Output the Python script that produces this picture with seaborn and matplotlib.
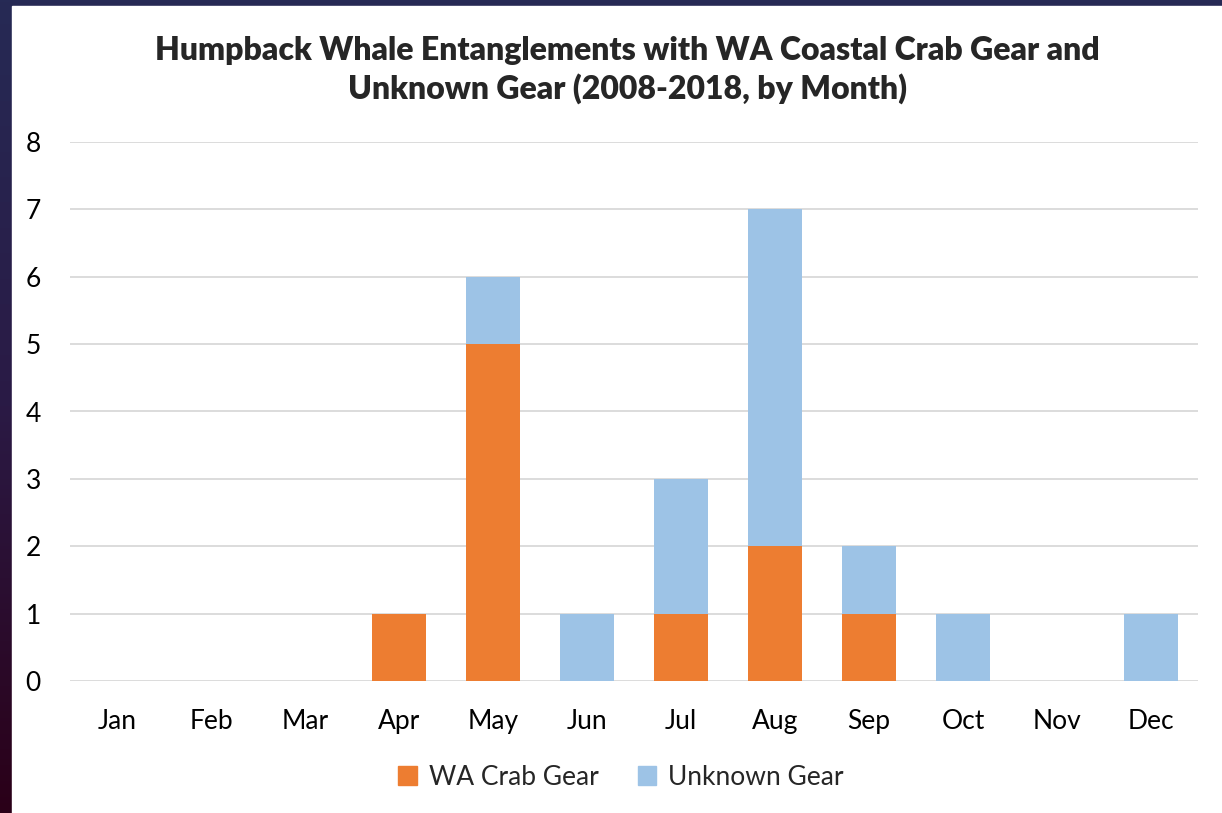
import numpy as np
import pandas as pd
import seaborn as sns
import matplotlib.pyplot as plt
from matplotlib.patches import Patch, Rectangle
from matplotlib.colors import LinearSegmentedColormap

months = ["Jan", "Feb", "Mar", "Apr", "May", "Jun", "Jul", "Aug", "Sep", "Oct", "Nov", "Dec"]
crab_gear = [0, 0, 0, 1, 5, 0, 1, 2, 1, 0, 0, 0]
unknown_gear = [0, 0, 0, 0, 1, 1, 2, 5, 1, 1, 0, 1]

orange = "#ED7D31"
blue = "#9DC3E6"

sns.set_theme(style="white")
plt.rcParams["font.family"] = ["Lato", "DejaVu Sans"]

fig = plt.figure(figsize=(12.22, 8.13), dpi=100)

# slide background (dark band at top/left) and the white chart panel
bg = fig.add_axes([0, 0, 1, 1], zorder=-10)
cmap = LinearSegmentedColormap.from_list("slide", ["#262a55", "#2a1a45", "#2a0018"])
bg.imshow(np.linspace(0, 1, 256).reshape(-1, 1), aspect="auto", cmap=cmap, extent=[0, 1, 0, 1])
bg.add_patch(Rectangle((12 / 1222, 0), 1, 1 - 6 / 813, color="white", transform=bg.transAxes))
bg.set_xlim(0, 1)
bg.set_ylim(0, 1)
bg.axis("off")

ax = fig.add_axes([70 / 1222, 1 - 681 / 813, 1128 / 1222, 539 / 813])
ax.set_facecolor("none")

df = pd.DataFrame({"Month": months, "WA Crab Gear": crab_gear, "Unknown Gear": unknown_gear})

sns.barplot(data=df, x="Month", y="WA Crab Gear", color=orange, width=0.57,
            saturation=1, linewidth=0, ax=ax, zorder=3)
sns.barplot(data=df, x="Month", y="Unknown Gear", color=blue, width=0.57,
            saturation=1, linewidth=0, bottom=df["WA Crab Gear"], ax=ax, zorder=3)

ax.set_ylim(0, 8)
ax.set_xlim(-0.5, 11.5)
ax.set_yticks(range(0, 9))
ax.yaxis.grid(True, color="#D9D9D9", linewidth=1.3, zorder=0)
ax.set_axisbelow(True)
for s in ax.spines.values():
    s.set_visible(False)
ax.tick_params(axis="both", length=0, labelsize=19, colors="#000000")
ax.tick_params(axis="y", pad=21)
ax.tick_params(axis="x", pad=20)
ax.set_xlabel("")
ax.set_ylabel("")

fig.text(627 / 1222, 1 - 70 / 813,
         "Humpback Whale Entanglements with WA Coastal Crab Gear and\nUnknown Gear (2008-2018, by Month)",
         ha="center", va="center", fontsize=23, fontweight="heavy", linespacing=1.3)

handles = [Patch(color=orange, label="WA Crab Gear"), Patch(color=blue, label="Unknown Gear")]
fig.legend(handles=handles, loc="center", bbox_to_anchor=(621 / 1222, 1 - 777 / 813), ncol=2,
           frameon=False, fontsize=19, handlelength=0.7, handleheight=0.7,
           handletextpad=0.45, columnspacing=1.5)

plt.savefig("out.png", dpi=100)
